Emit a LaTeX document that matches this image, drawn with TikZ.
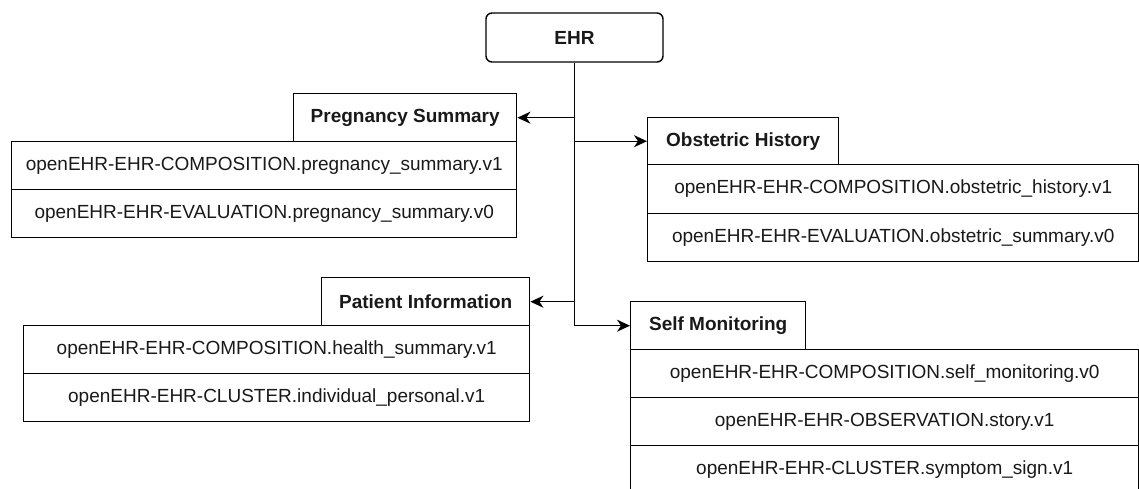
\documentclass[tikz,border=0pt]{standalone}
\usepackage{fontspec}
\setmainfont{Liberation Sans}
\usetikzlibrary{arrows.meta}
\begin{document}
\begin{tikzpicture}[x=1pt,y=-1pt,
  cell/.style={draw, line width=1.4pt, anchor=north west, inner sep=0pt,
    align=center, minimum height=48pt, text=black!90,
    font=\fontsize{19}{22}\selectfont},
  head/.style={cell, font=\bfseries\fontsize{19}{22}\selectfont},
  ehrbox/.style={draw, rounded corners=6pt, line width=1.4pt, inner sep=0pt,
    minimum width=177pt, minimum height=49pt, text=black!90,
    font=\bfseries\fontsize{19}{22}\selectfont},
  link/.style={line width=1.4pt, -{Stealth[length=13pt,width=12pt,inset=4pt]}}]
\useasboundingbox (0,0) rectangle (1139,488);
\clip (0,0) rectangle (1139,488);

% root record
\node[ehrbox] (ehr) at (574.5,37.5) {EHR};

% Pregnancy Summary
\node[head, minimum width=223pt] (ps) at (293,93) {Pregnancy Summary};
\node[cell, minimum width=505pt] (ps1) at (11,141) {openEHR-EHR-COMPOSITION.pregnancy\_summary.v1};
\node[cell, minimum width=505pt] (ps2) at (11,189) {openEHR-EHR-EVALUATION.pregnancy\_summary.v0};

% Obstetric History
\node[head, minimum width=191pt, minimum height=47pt] (oh) at (647,117) {Obstetric History};
\node[cell, minimum width=491pt, minimum height=48.5pt] (oh1) at (647,164) {openEHR-EHR-COMPOSITION.obstetric\_history.v1};
\node[cell, minimum width=491pt, minimum height=48.5pt] (oh2) at (647,212.5) {openEHR-EHR-EVALUATION.obstetric\_summary.v0};

% Patient Information
\node[head, minimum width=208pt] (pi) at (321,277) {Patient Information};
\node[cell, minimum width=506pt] (pi1) at (23,325) {openEHR-EHR-COMPOSITION.health\_summary.v1};
\node[cell, minimum width=506pt] (pi2) at (23,373) {openEHR-EHR-CLUSTER.individual\_personal.v1};

% Self Monitoring
\node[head, minimum width=175pt] (sm) at (630,301) {Self Monitoring};
\node[cell, minimum width=508pt] (sm1) at (630,349) {openEHR-EHR-COMPOSITION.self\_monitoring.v0};
\node[cell, minimum width=508pt] (sm2) at (630,397) {openEHR-EHR-OBSERVATION.story.v1};
\node[cell, minimum width=508pt] (sm3) at (630,445) {openEHR-EHR-CLUSTER.symptom\_sign.v1};

% trunk and branches
\coordinate (j1) at (ehr.south |- ps.east);
\coordinate (j2) at (ehr.south |- oh.west);
\coordinate (j3) at (ehr.south |- pi.east);
\coordinate (j4) at (ehr.south |- sm.west);
\draw[line width=1.4pt] (ehr.south) -- (j4);
\draw[link] (j1) -- (ps.east);
\draw[link] (j2) -- (oh.west);
\draw[link] (j3) -- (pi.east);
\draw[link] (j4) -- (sm.west);
\end{tikzpicture}
\end{document}
